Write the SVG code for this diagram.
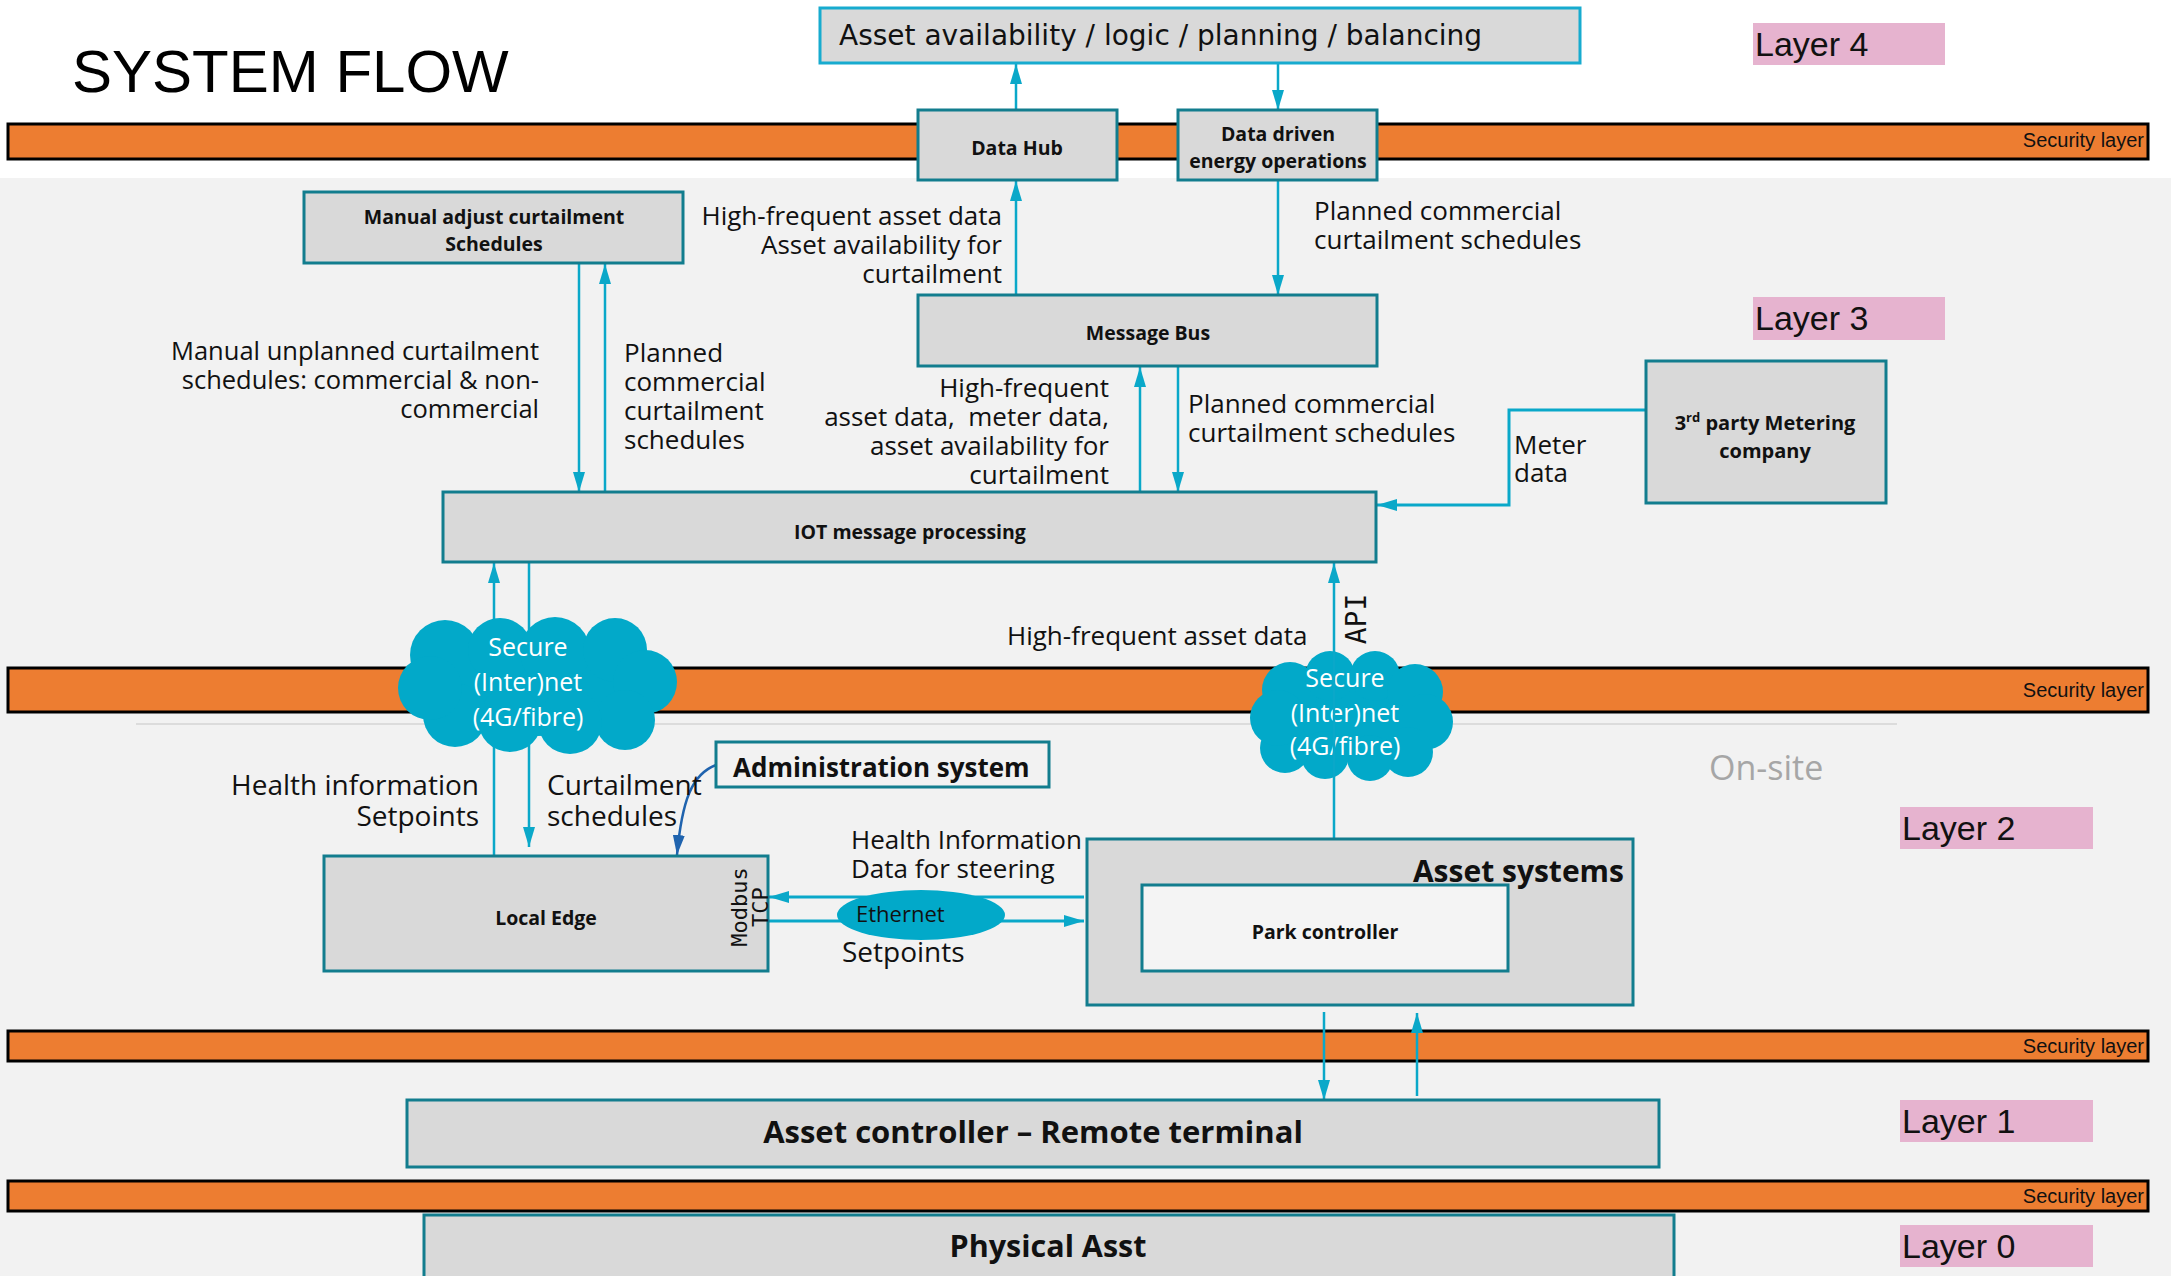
<svg xmlns="http://www.w3.org/2000/svg" width="2171" height="1276" viewBox="0 0 2171 1276">
<defs>
<style>
.lbl{font-family:"Open Sans","Noto Sans",sans-serif;font-size:26px;fill:#111}
.l28{font-size:28px}
.box{fill:#d9d9d9;stroke:#127d8e;stroke-width:3}
.bl{font-family:"Open Sans","Noto Sans",sans-serif;font-weight:700;font-size:19.5px;fill:#111;text-anchor:middle}
.sec{fill:#ED7D31;stroke:#000;stroke-width:3}
.sect{font-family:"Liberation Sans",Arial,sans-serif;font-size:20px;fill:#111;text-anchor:end}
.lay{fill:#E6B3CF}
.layt{font-family:"Liberation Sans",Arial,sans-serif;font-size:34px;fill:#111}
.cn{fill:none;stroke:#0AA8C9;stroke-width:2.5;marker-end:url(#ah)}
.cloud{fill:#02A9C9}
.ct{font-family:"Open Sans","Noto Sans",sans-serif;font-size:25px;fill:#fff;text-anchor:middle}
.mono{font-family:"DejaVu Sans Mono","Liberation Mono",monospace;fill:#111}
.end{text-anchor:end}
</style>
<marker id="ah" viewBox="0 0 20 12" markerWidth="20" markerHeight="12" refX="20" refY="6" orient="auto" markerUnits="userSpaceOnUse">
<path d="M0,0 L20,6 L0,12 z" fill="#0AA8C9"/>
</marker>
<marker id="ahb" viewBox="0 0 20 12" markerWidth="20" markerHeight="12" refX="20" refY="6" orient="auto" markerUnits="userSpaceOnUse">
<path d="M0,0 L20,6 L0,12 z" fill="#1F63AE"/>
</marker>
</defs>

<rect x="0" y="0" width="2171" height="178" fill="#ffffff"/>
<rect x="0" y="178" width="2171" height="1098" fill="#f2f2f2"/>
<line x1="136" y1="724" x2="1897" y2="724" stroke="#dcdcdc" stroke-width="2"/>

<text x="72" y="92" font-family="Liberation Sans, Arial, sans-serif" font-size="60" fill="#000">SYSTEM FLOW</text>

<g id="security-layers">
<rect class="sec" x="8" y="124" width="2140" height="35"/>
<text class="sect" x="2144" y="147">Security layer</text>
<rect class="sec" x="8" y="668" width="2140" height="44"/>
<text class="sect" x="2144" y="697">Security layer</text>
<rect class="sec" x="8" y="1031" width="2140" height="30"/>
<text class="sect" x="2144" y="1053">Security layer</text>
<rect class="sec" x="8" y="1181" width="2140" height="30"/>
<text class="sect" x="2144" y="1203">Security layer</text>
</g>

<g id="layer-labels">
<rect class="lay" x="1753" y="23" width="192" height="42"/>
<text class="layt" x="1755" y="56">Layer 4</text>
<rect class="lay" x="1753" y="297" width="192" height="43"/>
<text class="layt" x="1755" y="330">Layer 3</text>
<rect class="lay" x="1900" y="807" width="193" height="42"/>
<text class="layt" x="1902" y="840">Layer 2</text>
<rect class="lay" x="1900" y="1100" width="193" height="42"/>
<text class="layt" x="1902" y="1133">Layer 1</text>
<rect class="lay" x="1900" y="1225" width="193" height="42"/>
<text class="layt" x="1902" y="1258">Layer 0</text>
</g>

<g id="cloud-2">
<g class="cloud">
<ellipse cx="1351" cy="716" rx="80" ry="45"/>
<circle cx="1290" cy="690" r="28"/>
<circle cx="1330" cy="676" r="25"/>
<circle cx="1375" cy="676" r="25"/>
<circle cx="1415" cy="692" r="28"/>
<circle cx="1425" cy="722" r="28"/>
<circle cx="1408" cy="752" r="25"/>
<circle cx="1370" cy="758" r="23"/>
<circle cx="1325" cy="755" r="24"/>
<circle cx="1285" cy="748" r="25"/>
<circle cx="1278" cy="718" r="28"/>
</g>
<text class="ct" x="1345" y="687">Secure<tspan x="1345" y="722">(Inter)net</tspan><tspan x="1345" y="755">(4G/fibre)</tspan></text>
</g>

<g id="connectors">
<path class="cn" d="M1016,110 L1016,64"/>
<path class="cn" d="M1278,56 L1278,110"/>
<path class="cn" d="M1016,295 L1016,181"/>
<path class="cn" d="M1278,181 L1278,295"/>
<path class="cn" d="M579,263 L579,492"/>
<path class="cn" d="M605,492 L605,264"/>
<path class="cn" d="M1140,492 L1140,367"/>
<path class="cn" d="M1178,366 L1178,492"/>
<path class="cn" style="stroke-width:3" d="M1646,410 L1509,410 L1509,505 L1377,505"/>
<path class="cn" d="M494,856 L494,563"/>
<path class="cn" d="M529,563 L529,847"/>
<path class="cn" d="M1334,879 L1334,563"/>
<path class="cn" style="stroke-width:3" d="M1084,897 L769,897"/>
<path class="cn" style="stroke-width:3" d="M768,921 L1084,921"/>
<path class="cn" d="M1324,1012 L1324,1100"/>
<path class="cn" d="M1417,1096 L1417,1013"/>
<path d="M716,765 C692,774 682,800 677,855" fill="none" stroke="#1F63AE" stroke-width="2.5" marker-end="url(#ahb)"/>
</g>

<g id="connector-labels">
<text class="lbl end" x="1002" y="225">High-frequent asset data<tspan x="1002" y="254">Asset availability for</tspan><tspan x="1002" y="283">curtailment</tspan></text>
<text class="lbl" x="1314" y="220">Planned commercial<tspan x="1314" y="249">curtailment schedules</tspan></text>
<text class="lbl end" x="539" y="360" style="font-size:25.5px">Manual unplanned curtailment<tspan x="539" y="389">schedules: commercial &amp; non-</tspan><tspan x="539" y="418">commercial</tspan></text>
<text class="lbl" x="624" y="362">Planned<tspan x="624" y="391">commercial</tspan><tspan x="624" y="420">curtailment</tspan><tspan x="624" y="449">schedules</tspan></text>
<text class="lbl end" x="1109" y="397">High-frequent<tspan x="1109" y="426">asset data,&#160; meter data,</tspan><tspan x="1109" y="455">asset availability for</tspan><tspan x="1109" y="484">curtailment</tspan></text>
<text class="lbl" x="1188" y="413">Planned commercial<tspan x="1188" y="442">curtailment schedules</tspan></text>
<text class="lbl" x="1514" y="454">Meter<tspan x="1514" y="482">data</tspan></text>
<text class="lbl" x="1007" y="645">High-frequent asset data</text>
<text class="mono" font-size="28" text-anchor="middle" transform="translate(1366,619) rotate(-90)">API</text>
<text class="lbl l28 end" x="479" y="795">Health information<tspan x="479" y="826">Setpoints</tspan></text>
<text class="lbl l28" x="547" y="795">Curtailment<tspan x="547" y="826">schedules</tspan></text>
<text class="lbl" x="851" y="849">Health Information<tspan x="851" y="878">Data for steering</tspan></text>
<text class="lbl l28" x="842" y="962">Setpoints</text>
<text x="1709" y="780" font-family="Open Sans, Noto Sans, sans-serif" font-size="34" fill="#a6a6a6">On-site</text>
</g>

<g id="top-logic">
<rect x="820" y="8" width="760" height="55" fill="#d9d9d9" stroke="#17ABCF" stroke-width="3"/>
<text x="839" y="45" font-family="DejaVu Sans, Verdana, sans-serif" font-size="28" fill="#111">Asset availability / logic / planning / balancing</text>
</g>

<g id="data-hub">
<rect class="box" x="918" y="110" width="199" height="70"/>
<text class="bl" x="1017" y="155">Data Hub</text>
</g>

<g id="data-driven">
<rect class="box" x="1178" y="110" width="199" height="70"/>
<text class="bl" x="1278" y="141">Data driven<tspan x="1278" y="168">energy operations</tspan></text>
</g>

<g id="manual-adjust">
<rect class="box" x="304" y="192" width="379" height="71"/>
<text class="bl" x="494" y="224">Manual adjust curtailment<tspan x="494" y="251">Schedules</tspan></text>
</g>

<g id="message-bus">
<rect class="box" x="918" y="295" width="459" height="71"/>
<text class="bl" x="1148" y="340">Message Bus</text>
</g>

<g id="metering">
<rect class="box" x="1646" y="361" width="240" height="142"/>
<text class="bl" x="1765" y="430" style="font-size:20px">3<tspan style="font-size:13px" dy="-8">rd</tspan><tspan dy="8"> party Metering</tspan><tspan x="1765" y="458">company</tspan></text>
</g>

<g id="iot">
<rect class="box" x="443" y="492" width="933" height="70"/>
<text class="bl" x="910" y="539">IOT message processing</text>
</g>

<g id="cloud-1">
<g class="cloud">
<ellipse cx="537" cy="686" rx="110" ry="50"/>
<circle cx="445" cy="655" r="35"/>
<circle cx="500" cy="650" r="32"/>
<circle cx="555" cy="652" r="35"/>
<circle cx="615" cy="650" r="32"/>
<circle cx="645" cy="682" r="32"/>
<circle cx="625" cy="720" r="30"/>
<circle cx="570" cy="722" r="32"/>
<circle cx="510" cy="720" r="32"/>
<circle cx="455" cy="715" r="32"/>
<circle cx="430" cy="688" r="32"/>
</g>
<text class="ct" x="528" y="656">Secure<tspan x="528" y="691">(Inter)net</tspan><tspan x="528" y="726">(4G/fibre)</tspan></text>
</g>

<g id="admin">
<rect x="716" y="742" width="333" height="45" fill="#f2f2f2" stroke="#127d8e" stroke-width="3"/>
<text x="733" y="777" font-family="Open Sans, Noto Sans, sans-serif" font-weight="700" font-size="26" fill="#111">Administration system</text>
</g>

<g id="local-edge">
<rect class="box" x="324" y="856" width="444" height="115"/>
<text class="bl" x="546" y="925">Local Edge</text>
<text class="mono" font-size="22" text-anchor="middle" transform="translate(747,907) rotate(-90)">Modbus<tspan x="0" y="21">TCP</tspan></text>
</g>

<g id="ethernet">
<ellipse cx="921" cy="915" rx="84" ry="25" fill="#02A9C9"/>
<text class="lbl" x="856" y="922" style="font-size:22px">Ethernet</text>
</g>

<g id="asset-systems">
<rect class="box" x="1087" y="839" width="546" height="166"/>
<text x="1624" y="882" font-family="Open Sans, Noto Sans, sans-serif" font-weight="700" font-size="30" fill="#111" text-anchor="end">Asset systems</text>
</g>

<g id="park-controller">
<rect x="1142" y="885" width="366" height="86" fill="#f4f4f4" stroke="#127d8e" stroke-width="3"/>
<text class="bl" x="1325" y="939">Park controller</text>
</g>

<g id="asset-controller">
<rect class="box" x="407" y="1100" width="1252" height="67"/>
<text x="1033" y="1143" font-family="Open Sans, Noto Sans, sans-serif" font-weight="700" font-size="31" fill="#111" text-anchor="middle">Asset controller – Remote terminal</text>
</g>

<g id="physical-asset">
<rect class="box" x="424" y="1215" width="1250" height="70"/>
<text x="1048" y="1257" font-family="Open Sans, Noto Sans, sans-serif" font-weight="700" font-size="30.5" fill="#111" text-anchor="middle">Physical Asst</text>
</g>
</svg>
